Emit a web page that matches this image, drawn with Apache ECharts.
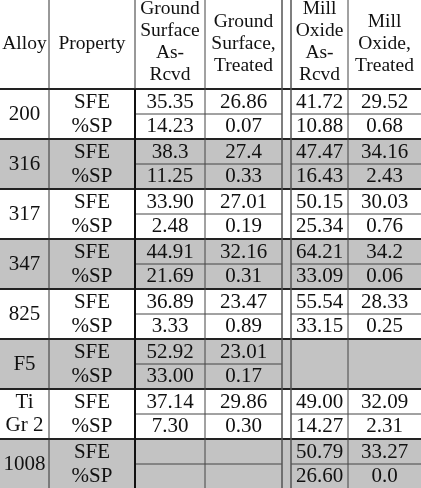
<!DOCTYPE html>
<html>
<head>
<meta charset="UTF-8">
<script src="https://cdn.jsdelivr.net/npm/echarts@6/dist/echarts.min.js"></script>
<style>html,body{margin:0;padding:0;background:#fff}#main{width:421px;height:488px}</style>
</head>
<body>
<div id="main"></div>
<script>
// table data
var headers = ['Alloy', 'Property', 'Ground\nSurface\nAs-\nRcvd', 'Ground\nSurface,\nTreated', 'Mill\nOxide\nAs-\nRcvd', 'Mill\nOxide,\nTreated'];
var alloys = ['200', '316', '317', '347', '825', 'F5', 'Ti\nGr 2', '1008'];
var properties = ['SFE', '%SP'];
var shaded = [false, true, false, true, false, true, false, true];
var groundRcvd = [['35.35','14.23'],['38.3','11.25'],['33.90','2.48'],['44.91','21.69'],['36.89','3.33'],['52.92','33.00'],['37.14','7.30'],['','']];
var groundTreated = [['26.86','0.07'],['27.4','0.33'],['27.01','0.19'],['32.16','0.31'],['23.47','0.89'],['23.01','0.17'],['29.86','0.30'],['','']];
var millRcvd = [['41.72','10.88'],['47.47','16.43'],['50.15','25.34'],['64.21','33.09'],['55.54','33.15'],['',''],['49.00','14.27'],['50.79','26.60']];
var millTreated = [['29.52','0.68'],['34.16','2.43'],['30.03','0.76'],['34.2','0.06'],['28.33','0.25'],['',''],['32.09','2.31'],['33.27','0.0']];

var colX = [0, 49, 135, 205, 282, 291, 348, 421]; // 282-291 is the double-line gap
var headH = 89, blockH = 50;

var els = [];
function txt(x, y, s, size, lh) {
  els.push({type: 'text', x: x, y: y, style: {text: s, font: size + 'px "Liberation Serif", serif', fill: '#111', align: 'center', verticalAlign: 'middle', lineHeight: lh || 24}});
}
function line(x1, y1, x2, y2, w, c) {
  els.push({type: 'line', shape: {x1: x1, y1: y1, x2: x2, y2: y2}, style: {stroke: c || '#222', lineWidth: w || 1}});
}
function rect(x, y, w, h, c) {
  els.push({type: 'rect', shape: {x: x, y: y, width: w, height: h}, style: {fill: c}});
}
var cells = [[2, 3, groundRcvd], [3, 4, groundTreated], [5, 6, millRcvd], [6, 7, millTreated]];

alloys.forEach(function(a, i) {
  var y0 = headH + i * blockH;
  if (shaded[i]) rect(0, y0, 421, blockH, '#c3c3c3');
});
// header
var hc = [[0,1],[1,2],[2,3],[3,4],[5,6],[6,7]];
headers.forEach(function(h, k) {
  var n = h.split('\n').length;
  txt((colX[hc[k][0]] + colX[hc[k][1]]) / 2, n === 4 ? 42 : 44, h, 19.5, 22);
});
alloys.forEach(function(a, i) {
  var y0 = headH + i * blockH;
  txt(colX[0] / 2 + colX[1] / 2, y0 + blockH / 2, a, 21, 23);
  properties.forEach(function(p, r) {
    var yc = y0 + 13 + r * 24;
    txt((colX[1] + colX[2]) / 2, yc, p, 21);
    cells.forEach(function(c) {
      txt((colX[c[0]] + colX[c[1]]) / 2, yc, c[2][i][r], 21);
    });
  });
  // sub-row separator
  line(135, y0 + 25, 282, y0 + 25, 1, '#444');
  if (i !== 5) line(291, y0 + 25, 421, y0 + 25, 1, '#444');
  // block separator
  line(0, y0, 421, y0, 2, '#222');
});
// vertical lines
line(49, 0, 49, 488, 1, '#333');
line(135, 0, 135, 89, 1, '#333');
line(135, 89, 135, 488, 2, '#111');
line(205, 0, 205, 488, 1, '#444');
line(282, 0, 282, 488, 1.5, '#555');
line(291, 0, 291, 488, 1.5, '#555');
line(348, 0, 348, 488, 1, '#444');

var chart = echarts.init(document.getElementById('main'));
chart.setOption({graphic: {elements: els}});
</script>
</body>
</html>
